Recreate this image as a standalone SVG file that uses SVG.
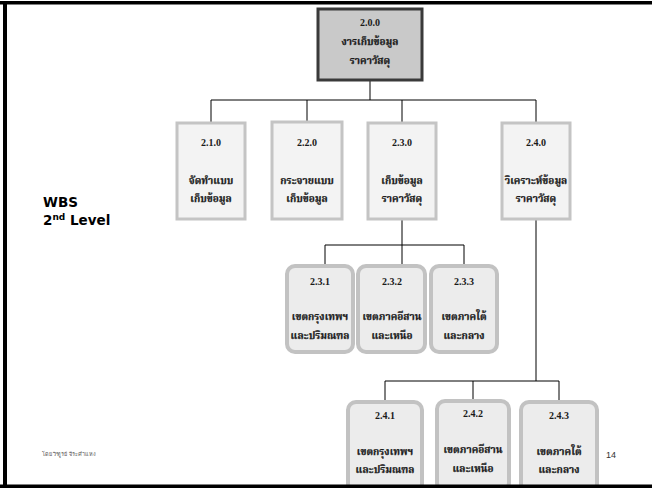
<svg xmlns="http://www.w3.org/2000/svg" width="652" height="488" viewBox="0 0 652 488">
  <style>
    .th { font-family: "Liberation Serif", "Noto Serif Thai", "Noto Sans Thai", serif; font-weight: bold; font-size: 10px; fill: #1a1a1a; stroke: #1a1a1a; stroke-width: 0.25; text-anchor: middle; }
    .num { font-family: "Liberation Serif", serif; font-weight: bold; font-size: 10px; fill: #1a1a1a; text-anchor: middle; }
    .lvl2 { fill: #f3f3f3; stroke: #c4c4c4; stroke-width: 3; }
    .lvl3 { fill: #ececec; stroke: #c2c2c2; stroke-width: 4; }
    .wire { fill: none; stroke: #000; stroke-width: 1; }
  </style>

  <rect width="652" height="488" fill="#ffffff"/>

  <!-- page frame -->
  <g id="frame" fill="#000">
    <rect x="0" y="1" width="652" height="3.5"/>
    <rect x="3" y="1" width="4" height="486"/>
  </g>

  <!-- connectors -->
  <g id="connectors" class="wire">
    <path d="M370 80 V100 M211 100 H536 M211 100 V122 M307 100 V121 M402 100 V122 M536 100 V122"/>
    <path d="M402 218 V245 M325 245 H464 M325 245 V264 M402 245 V264 M464 245 V264"/>
    <path d="M536 218 V381 M385 381 H559 M385 381 V401 M473 381 V400 M559 381 V401"/>
  </g>

  <!-- level 1 -->
  <g id="n200">
    <rect x="318" y="9" width="104" height="71" fill="#c9c9c9" stroke="#3a3a3a" stroke-width="3"/>
    <text class="num" x="370" y="26">2.0.0</text>
    <text class="th" x="370" y="45">งารเก็บข้อมูล</text>
    <text class="th" x="370" y="64">ราคาวัสดุ</text>
  </g>

  <!-- level 2 -->
  <g id="n210">
    <rect class="lvl2" x="177" y="123" width="68" height="96"/>
    <text class="num" x="211" y="146">2.1.0</text>
    <text class="th" x="211" y="184">จัดทำแบบ</text>
    <text class="th" x="211" y="202">เก็บข้อมูล</text>
  </g>
  <g id="n220">
    <rect class="lvl2" x="272" y="122" width="70" height="97"/>
    <text class="num" x="307" y="146">2.2.0</text>
    <text class="th" x="307" y="184">กระจายแบบ</text>
    <text class="th" x="307" y="202">เก็บข้อมูล</text>
  </g>
  <g id="n230">
    <rect class="lvl2" x="368" y="123" width="68" height="96"/>
    <text class="num" x="402" y="146">2.3.0</text>
    <text class="th" x="402" y="184">เก็บข้อมูล</text>
    <text class="th" x="402" y="202">ราคาวัสดุ</text>
  </g>
  <g id="n240">
    <rect class="lvl2" x="502" y="123" width="68" height="96"/>
    <text class="num" x="536" y="146">2.4.0</text>
    <text class="th" x="536" y="184">วิเคราะห์ข้อมูล</text>
    <text class="th" x="536" y="202">ราคาวัสดุ</text>
  </g>

  <!-- level 3 under 2.3.0 -->
  <g id="n231">
    <rect class="lvl3" x="287" y="266" width="66" height="86" rx="8"/>
    <text class="num" x="320" y="285">2.3.1</text>
    <text class="th" x="320" y="320">เขตกรุงเทพฯ</text>
    <text class="th" x="320" y="339">และปริมณฑล</text>
  </g>
  <g id="n232">
    <rect class="lvl3" x="358" y="266" width="67" height="86" rx="8"/>
    <text class="num" x="392" y="285">2.3.2</text>
    <text class="th" x="392" y="320">เขตภาคอีสาน</text>
    <text class="th" x="392" y="339">และเหนือ</text>
  </g>
  <g id="n233">
    <rect class="lvl3" x="431" y="266" width="66" height="86" rx="8"/>
    <text class="num" x="464" y="285">2.3.3</text>
    <text class="th" x="464" y="320">เขตภาคใต้</text>
    <text class="th" x="464" y="339">และกลาง</text>
  </g>

  <!-- level 3 under 2.4.0 -->
  <g id="n241">
    <rect class="lvl3" x="348" y="402" width="74" height="90" rx="8"/>
    <text class="num" x="385" y="419">2.4.1</text>
    <text class="th" x="385" y="455">เขตกรุงเทพฯ</text>
    <text class="th" x="385" y="473">และปริมณฑล</text>
  </g>
  <g id="n242">
    <rect class="lvl3" x="437" y="401" width="72" height="90" rx="8"/>
    <text class="num" x="473" y="417">2.4.2</text>
    <text class="th" x="473" y="453">เขตภาคอีสาน</text>
    <text class="th" x="473" y="472">และเหนือ</text>
  </g>
  <g id="n243">
    <rect class="lvl3" x="521" y="402" width="76" height="90" rx="8"/>
    <text class="num" x="559" y="419">2.4.3</text>
    <text class="th" x="559" y="455">เขตภาคใต้</text>
    <text class="th" x="559" y="473">และกลาง</text>
  </g>

  <!-- bottom rule drawn over the lowest boxes -->
  <rect x="0" y="484.5" width="652" height="3.5" fill="#000"/>

  <!-- side title -->
  <g id="title" font-family="'DejaVu Sans', Verdana, sans-serif" font-weight="bold" font-size="13.5px" fill="#000">
    <text x="43" y="207">WBS</text>
    <text x="43" y="225">2<tspan font-size="9px" dy="-5">nd</tspan><tspan dy="5"> Level</tspan></text>
  </g>

  <!-- footer -->
  <text x="42" y="456" font-family="'Liberation Serif', serif" font-size="5.5px" fill="#555">โดย วิฑูรย์ จีระคำแหง</text>
  <text x="606" y="458" font-family="'Liberation Sans', Arial, sans-serif" font-size="9px" fill="#333">14</text>
</svg>
